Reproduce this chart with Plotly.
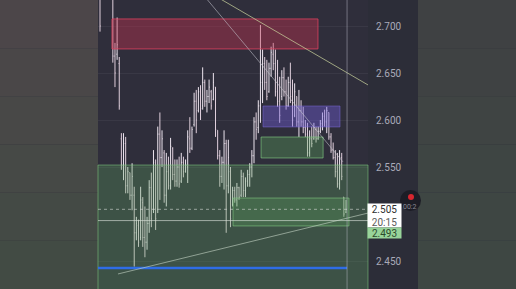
import plotly.graph_objects as go

# ---- data (prices) ----
highs = [2.735, 2.752, 2.758, 2.750, 2.746, 2.742, 2.735, 2.682, 2.709, 2.667,
         2.586, 2.586, 2.582, 2.550, 2.544, 2.554, 2.529, 2.497, 2.494, 2.529,
         2.518, 2.508, 2.497, 2.536, 2.544, 2.568, 2.558, 2.593, 2.608, 2.589,
         2.568, 2.565, 2.561, 2.581, 2.571, 2.558, 2.558, 2.561, 2.565, 2.561,
         2.558, 2.589, 2.603, 2.593, 2.629, 2.632, 2.635, 2.637, 2.656, 2.643,
         2.632, 2.643, 2.632, 2.650, 2.635, 2.589, 2.568, 2.561, 2.589, 2.579,
         2.579, 2.550, 2.529, 2.529, 2.533, 2.529, 2.547, 2.544, 2.539, 2.547,
         2.554, 2.568, 2.603, 2.608, 2.621, 2.701, 2.675, 2.667, 2.664, 2.661,
         2.678, 2.682, 2.675, 2.664, 2.646, 2.653, 2.656, 2.643, 2.646, 2.661,
         2.643, 2.639, 2.625, 2.632, 2.621, 2.614, 2.600, 2.597, 2.589, 2.593,
         2.597, 2.593, 2.593, 2.600, 2.608, 2.611, 2.614, 2.608, 2.586, 2.576,
         2.568, 2.565, 2.568, 2.565, 2.518, 2.515]
lows = [2.694, 2.736, 2.740, 2.733, 2.731, 2.730, 2.661, 2.635, 2.664, 2.611,
        2.547, 2.536, 2.522, 2.522, 2.515, 2.504, 2.444, 2.472, 2.465, 2.472,
        2.465, 2.454, 2.462, 2.480, 2.486, 2.501, 2.483, 2.501, 2.515, 2.550,
        2.512, 2.508, 2.526, 2.526, 2.536, 2.529, 2.529, 2.528, 2.533, 2.539,
        2.544, 2.533, 2.565, 2.568, 2.593, 2.586, 2.608, 2.600, 2.611, 2.614,
        2.608, 2.618, 2.611, 2.621, 2.582, 2.558, 2.529, 2.533, 2.526, 2.480,
        2.522, 2.486, 2.508, 2.512, 2.508, 2.515, 2.518, 2.518, 2.518, 2.529,
        2.529, 2.539, 2.554, 2.579, 2.586, 2.597, 2.618, 2.632, 2.621, 2.629,
        2.646, 2.653, 2.625, 2.614, 2.597, 2.621, 2.625, 2.611, 2.614, 2.618,
        2.593, 2.603, 2.593, 2.582, 2.593, 2.586, 2.582, 2.561, 2.561, 2.571,
        2.579, 2.576, 2.579, 2.586, 2.589, 2.593, 2.586, 2.579, 2.565, 2.558,
        2.539, 2.528, 2.526, 2.536, 2.497, 2.501]
opens = [2.730, 2.740, 2.748, 2.744, 2.738, 2.735, 2.733, 2.668, 2.670, 2.660,
         2.580, 2.552, 2.575, 2.530, 2.544, 2.520, 2.520, 2.480, 2.488, 2.475,
         2.512, 2.475, 2.470, 2.490, 2.528, 2.505, 2.552, 2.505, 2.585, 2.560,
         2.565, 2.520, 2.545, 2.530, 2.570, 2.542, 2.535, 2.550, 2.535, 2.555,
         2.545, 2.550, 2.580, 2.570, 2.595, 2.620, 2.610, 2.630, 2.615, 2.640,
         2.620, 2.625, 2.630, 2.622, 2.635, 2.589, 2.562, 2.540, 2.555, 2.575,
         2.530, 2.545, 2.510, 2.525, 2.515, 2.528, 2.520, 2.540, 2.525, 2.535,
         2.542, 2.550, 2.562, 2.598, 2.592, 2.615, 2.640, 2.660, 2.640, 2.630,
         2.655, 2.670, 2.660, 2.630, 2.620, 2.625, 2.645, 2.630, 2.615, 2.640,
         2.625, 2.605, 2.625, 2.598, 2.610, 2.598, 2.592, 2.585, 2.565, 2.580,
         2.580, 2.590, 2.580, 2.588, 2.596, 2.604, 2.598, 2.608, 2.582, 2.568,
         2.560, 2.545, 2.532, 2.560, 2.518, 2.502]
closes = [2.700, 2.748, 2.744, 2.738, 2.735, 2.733, 2.668, 2.650, 2.680, 2.615,
          2.552, 2.575, 2.530, 2.545, 2.520, 2.540, 2.480, 2.490, 2.470, 2.515,
          2.475, 2.470, 2.490, 2.528, 2.495, 2.555, 2.495, 2.585, 2.560, 2.580,
          2.520, 2.545, 2.530, 2.572, 2.542, 2.535, 2.550, 2.532, 2.555, 2.545,
          2.552, 2.582, 2.570, 2.590, 2.620, 2.600, 2.630, 2.612, 2.640, 2.620,
          2.625, 2.635, 2.615, 2.640, 2.590, 2.562, 2.540, 2.555, 2.575, 2.530,
          2.560, 2.495, 2.525, 2.515, 2.528, 2.518, 2.540, 2.525, 2.535, 2.542,
          2.550, 2.562, 2.598, 2.590, 2.615, 2.640, 2.660, 2.640, 2.625, 2.655,
          2.672, 2.660, 2.630, 2.620, 2.605, 2.645, 2.630, 2.615, 2.640, 2.625,
          2.600, 2.630, 2.598, 2.610, 2.598, 2.592, 2.585, 2.565, 2.580, 2.575,
          2.592, 2.580, 2.588, 2.596, 2.604, 2.598, 2.610, 2.582, 2.568, 2.560,
          2.545, 2.532, 2.560, 2.540, 2.500, 2.505]
bar_index = list(range(len(highs)))

tick_vals = [2.450, 2.550, 2.600, 2.650, 2.700]
tick_text = ["2.450", "2.550", "2.600", "2.650", "2.700"]

last_price_text = "2.505"
timer_text = "20:15"
bid_price_text = "2.493"
last_price = 2.505
bid_price = 2.493
support_level = 2.4426

# zones: (x0, x1, y0, y1)
red_zone = (5.6, 101.9, 2.6756, 2.7075)
purple_zone = (76.2, 112.2, 2.5926, 2.6149)
green_small = (75.3, 104.3, 2.5596, 2.5819)
green_low = (62.2, 116.4, 2.4873, 2.5170)
green_big_top = 2.5521
trend_up = (8.4, 2.4362, 125.3, 2.5010)
diag_gray = (46.75, 2.7373, 113.6, 2.5554)
diag_yellow = (49.1, 2.7383, 125.3, 2.6373)
now_x = 115.5

W, H = 516, 289
L, R = 98, 148
plot_w = W - L - R
x_lo, x_hi = -0.935, 125.29
y_lo, y_hi = 2.42021, 2.72766


def px(xp):
    return (xp - L) / plot_w


def py(yp):
    return 1 - yp / H


fig = go.Figure()
fig.add_trace(go.Ohlc(
    x=bar_index, open=opens, high=highs, low=lows, close=closes,
    increasing=dict(line=dict(color="#ece4ee", width=1)),
    decreasing=dict(line=dict(color="#e0cfdc", width=1)),
    tickwidth=0.3, showlegend=False, hoverinfo="skip"))

shapes = []
# outer background regions (gradient approximated by bands)
left_cols = ["#4c4649", "#4a4748", "#484847", "#464946", "#444a45", "#424b44"]
right_cols = ["#3f4143", "#3f4243", "#3f4443", "#3e4543", "#3e4643", "#3e4743"]
n = len(left_cols)
for i in range(n):
    y0 = 1 - (i + 1) / n
    y1 = 1 - i / n
    shapes.append(dict(type="rect", xref="paper", yref="paper", x0=px(0), x1=px(L),
                       y0=y0, y1=y1, fillcolor=left_cols[i], line=dict(width=0), layer="below"))
    shapes.append(dict(type="rect", xref="paper", yref="paper", x0=px(418), x1=px(W),
                       y0=y0, y1=y1, fillcolor=right_cols[i], line=dict(width=0), layer="below"))

# zones
shapes.append(dict(type="rect", xref="paper", yref="y", x0=0, x1=1, y0=2.40, y1=green_big_top,
                   fillcolor="rgba(95,165,95,0.30)", line=dict(color="rgba(130,205,130,0.55)", width=1)))
shapes.append(dict(type="rect", x0=red_zone[0], x1=red_zone[1], y0=red_zone[2], y1=red_zone[3],
                   fillcolor="rgba(200,50,80,0.40)", line=dict(color="rgba(220,65,95,0.8)", width=1)))
shapes.append(dict(type="rect", x0=purple_zone[0], x1=purple_zone[1], y0=purple_zone[2], y1=purple_zone[3],
                   fillcolor="rgba(115,95,225,0.40)", line=dict(color="rgba(130,110,230,0.45)", width=1)))
shapes.append(dict(type="rect", x0=green_small[0], x1=green_small[1], y0=green_small[2], y1=green_small[3],
                   fillcolor="rgba(95,175,95,0.33)", line=dict(color="rgba(135,210,135,0.6)", width=1)))
shapes.append(dict(type="rect", x0=green_low[0], x1=green_low[1], y0=green_low[2], y1=green_low[3],
                   fillcolor="rgba(95,175,95,0.25)", line=dict(color="rgba(135,210,135,0.55)", width=1)))

# levels
shapes.append(dict(type="line", xref="paper", x0=0, x1=1, y0=last_price, y1=last_price,
                   line=dict(color="rgba(215,220,215,0.6)", width=1, dash="dot")))
shapes.append(dict(type="line", xref="paper", x0=0, x1=1, y0=bid_price, y1=bid_price,
                   line=dict(color="rgba(215,225,215,0.65)", width=1)))
shapes.append(dict(type="line", x0=x_lo, x1=now_x, y0=support_level, y1=support_level,
                   line=dict(color="#2f6de6", width=2.5)))
# trend lines
for (xa, ya, xb, yb), col in [(trend_up, "rgba(200,215,200,0.6)"),
                              (diag_gray, "rgba(200,200,210,0.55)"),
                              (diag_yellow, "rgba(205,215,160,0.7)")]:
    shapes.append(dict(type="line", x0=xa, y0=ya, x1=xb, y1=yb, line=dict(color=col, width=1)))
# current time line
shapes.append(dict(type="line", x0=now_x, x1=now_x, yref="paper", y0=0, y1=1,
                   line=dict(color="rgba(200,200,210,0.45)", width=1)))
# recording dot
shapes.append(dict(type="circle", xref="paper", yref="paper",
                   x0=px(400), x1=px(421), y0=py(211), y1=py(190),
                   fillcolor="#1d1d26", line=dict(width=0)))
shapes.append(dict(type="circle", xref="paper", yref="paper",
                   x0=px(408), x1=px(414), y0=py(200), y1=py(194),
                   fillcolor="#d7262f", line=dict(width=0)))

annotations = [
    dict(xref="paper", yref="paper", x=px(367), y=py(203), xanchor="left", yanchor="top",
         text=last_price_text + "<br><span style='color:#5a5a5a'>" + timer_text + "</span>",
         showarrow=False, align="center",
         font=dict(family="Roboto", size=10, color="#2e2e2e"),
         bgcolor="#ffffff", borderpad=1, width=31, height=21),
    dict(xref="paper", yref="paper", x=px(367), y=py(227), xanchor="left", yanchor="top",
         text=bid_price_text, showarrow=False, align="center",
         font=dict(family="Roboto", size=10, color="#2c4a2c"),
         bgcolor="#98d49a", borderpad=0, width=33, height=10),
    dict(xref="paper", yref="paper", x=px(410), y=py(207), xanchor="center", yanchor="middle",
         text="00:2", showarrow=False, font=dict(family="Roboto", size=7, color="#8a8a96")),
]

fig.update_layout(
    width=W, height=H,
    margin=dict(l=L, r=R, t=0, b=0),
    paper_bgcolor="#2c2d38",
    plot_bgcolor="#2f2e3b",
    shapes=shapes,
    annotations=annotations,
    showlegend=False,
    xaxis=dict(range=[x_lo, x_hi], showgrid=False, zeroline=False, showticklabels=False,
               rangeslider=dict(visible=False), fixedrange=True),
    yaxis=dict(range=[y_lo, y_hi], side="right", tickvals=tick_vals, ticktext=tick_text,
               showgrid=True, gridcolor="rgba(255,255,255,0.05)", zeroline=False,
               ticks="", ticklabelstandoff=7,
               tickfont=dict(family="Roboto", size=10, color="#a9aab8")),
)

fig.write_html("out.html")
